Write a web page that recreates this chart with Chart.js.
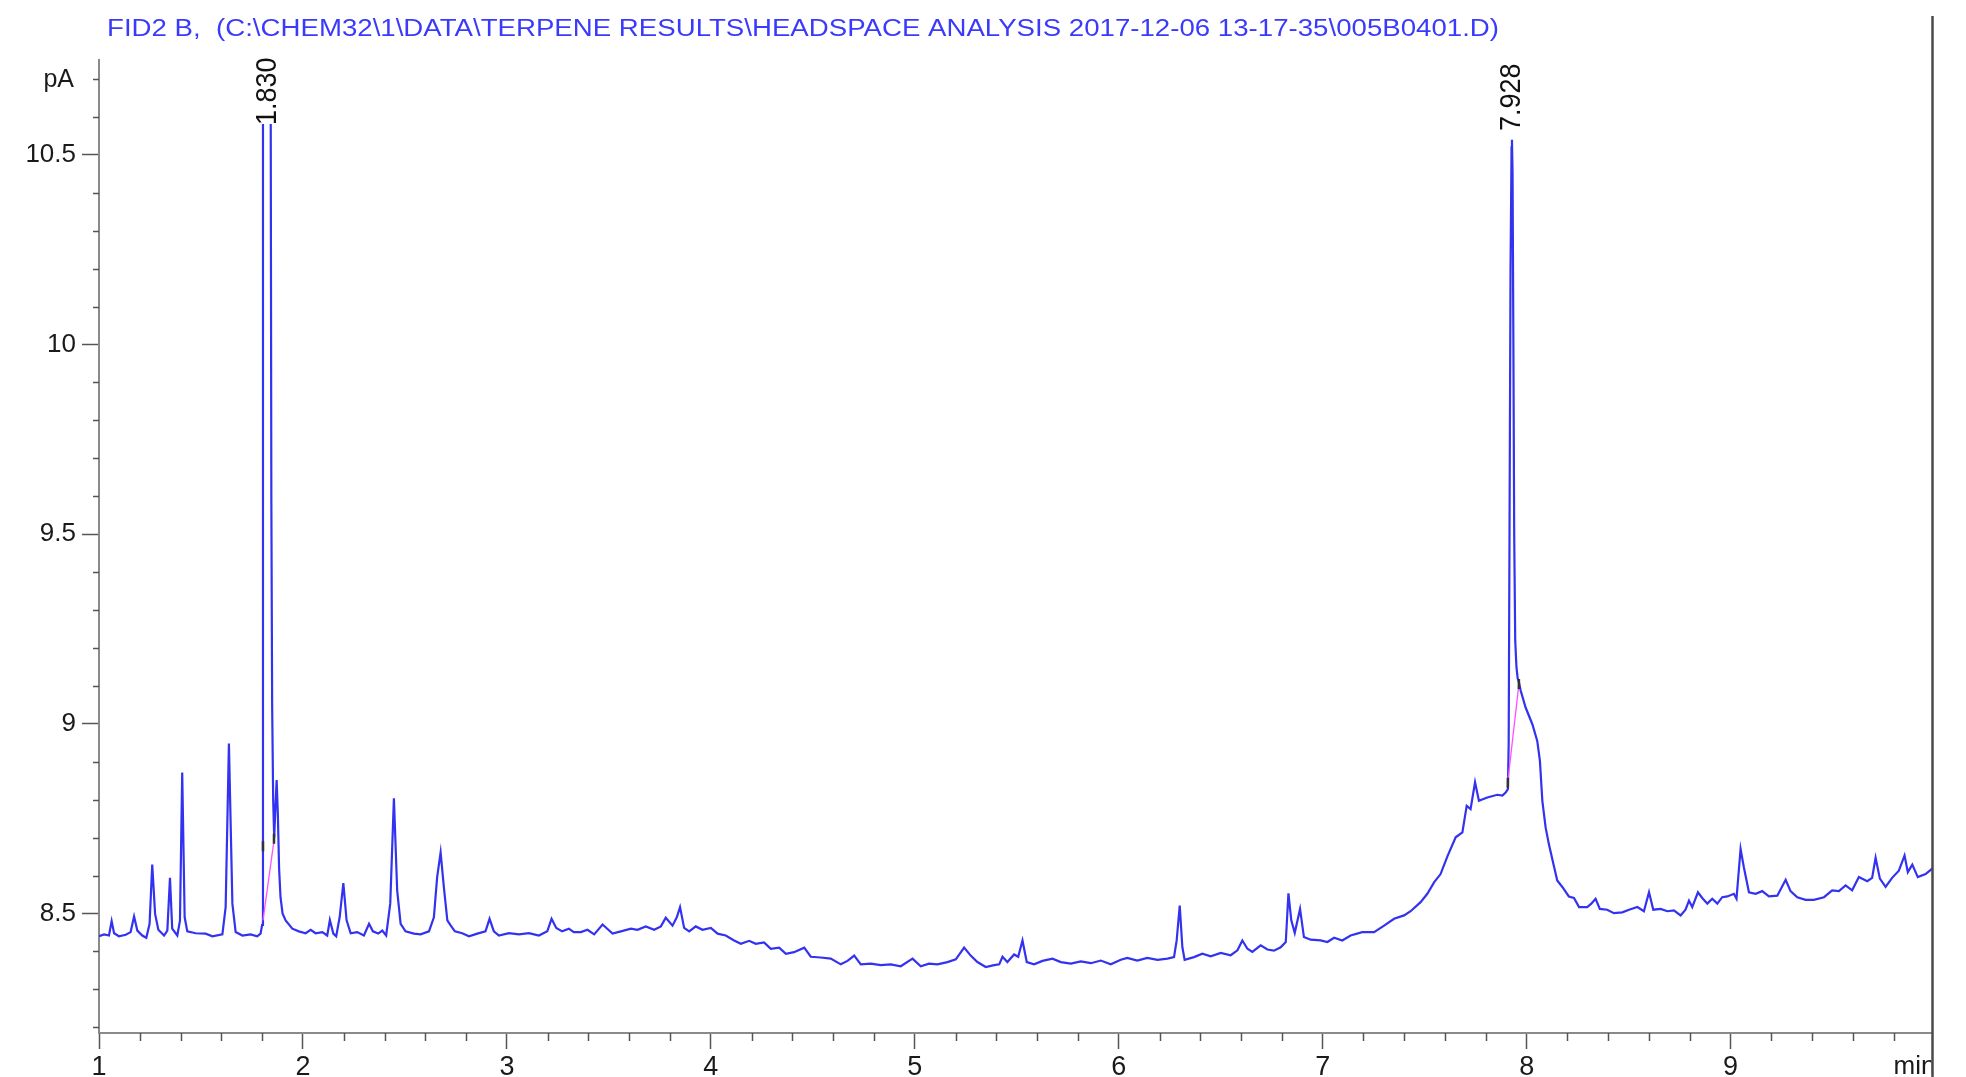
<!DOCTYPE html>
<html>
<head>
<meta charset="utf-8">
<script src="https://cdn.jsdelivr.net/npm/chart.js@4.4.1/dist/chart.umd.min.js"></script>
<style>
html,body{margin:0;padding:0;background:#fff;overflow:hidden}
canvas{display:block}
</style>
</head>
<body>
<canvas id="c" width="1966" height="1077"></canvas>
<script>
// ---------- texts ----------
const chartTitle = "FID2 B,  (C:\\CHEM32\\1\\DATA\\TERPENE RESULTS\\HEADSPACE ANALYSIS 2017-12-06 13-17-35\\005B0401.D)";
const yUnit = "pA";
const xUnit = "min";

// ---------- ticks ----------
const xTickValues = [1, 2, 3, 4, 5, 6, 7, 8, 9];
const xTickLabels = ["1", "2", "3", "4", "5", "6", "7", "8", "9"];
const yTickValues = [8.5, 9, 9.5, 10, 10.5];
const yTickLabels = ["8.5", "9", "9.5", "10", "10.5"];
const xRange = [1, 9.99];
const yRange = [8.185, 10.75];

// ---------- chromatogram trace (retention time in min, signal in pA) ----------
const retentionTimes = [
1.000,1.025,1.049,1.062,1.074,1.098,1.131,1.155,1.172,1.188,1.212,1.232,1.248,1.261,1.275,1.291,1.319,1.335,1.348,1.359,
1.384,1.397,1.408,1.420,1.433,1.474,1.523,1.556,1.605,1.621,1.637,1.654,1.670,1.703,1.743,1.776,1.792,1.800,1.804,1.836,
1.842,1.845,1.849,1.854,1.859,1.865,1.871,1.877,1.883,1.890,1.900,1.915,1.948,1.980,2.013,2.038,2.062,2.095,2.119,2.132,
2.149,2.163,2.180,2.198,2.214,2.234,2.266,2.299,2.324,2.343,2.369,2.389,2.408,2.428,2.446,2.462,2.479,2.503,2.544,2.577,
2.618,2.642,2.658,2.675,2.691,2.708,2.724,2.745,2.781,2.814,2.855,2.895,2.915,2.936,2.961,3.010,3.059,3.108,3.157,3.198,
3.219,3.242,3.271,3.304,3.328,3.363,3.395,3.428,3.469,3.518,3.559,3.608,3.640,3.681,3.722,3.755,3.779,3.812,3.833,3.849,
3.869,3.894,3.926,3.959,4.000,4.033,4.073,4.114,4.147,4.188,4.220,4.261,4.294,4.335,4.368,4.408,4.458,4.490,4.539,4.588,
4.637,4.670,4.703,4.735,4.784,4.833,4.882,4.931,4.989,5.029,5.070,5.111,5.160,5.201,5.242,5.274,5.307,5.348,5.389,5.414,
5.430,5.454,5.487,5.507,5.528,5.549,5.585,5.626,5.675,5.716,5.765,5.814,5.863,5.912,5.961,6.010,6.042,6.091,6.140,6.190,
6.239,6.271,6.284,6.299,6.312,6.323,6.369,6.410,6.451,6.500,6.549,6.582,6.606,6.631,6.655,6.696,6.729,6.761,6.794,6.819,
6.832,6.846,6.863,6.889,6.908,6.941,6.990,7.023,7.056,7.096,7.137,7.194,7.252,7.301,7.350,7.399,7.431,7.480,7.513,7.546,
7.578,7.611,7.652,7.685,7.706,7.725,7.747,7.766,7.807,7.856,7.881,7.897,7.908,7.912,7.916,7.921,7.926,7.928,7.931,7.935,
7.939,7.944,7.950,7.956,7.962,7.971,7.995,8.028,8.052,8.065,8.077,8.093,8.109,8.131,8.150,8.175,8.207,8.232,8.257,8.297,
8.317,8.338,8.359,8.395,8.428,8.469,8.502,8.543,8.575,8.600,8.621,8.657,8.690,8.722,8.755,8.779,8.796,8.812,8.840,8.861,
8.886,8.910,8.935,8.959,8.984,9.016,9.029,9.049,9.065,9.090,9.123,9.155,9.188,9.229,9.270,9.294,9.327,9.368,9.408,9.458,
9.498,9.531,9.564,9.596,9.629,9.670,9.694,9.711,9.732,9.760,9.792,9.825,9.853,9.869,9.891,9.918,9.956,9.997
];
const signal = [
8.440,8.445,8.442,8.480,8.448,8.440,8.444,8.451,8.492,8.455,8.442,8.436,8.473,8.629,8.499,8.457,8.442,8.455,8.594,8.460,
8.442,8.481,8.872,8.490,8.453,8.448,8.447,8.440,8.445,8.517,8.948,8.526,8.451,8.442,8.445,8.440,8.447,8.470,12.000,12.000,
10.600,9.600,9.050,8.800,8.700,8.780,8.852,8.760,8.620,8.543,8.500,8.482,8.460,8.453,8.448,8.457,8.448,8.451,8.442,8.483,
8.447,8.440,8.490,8.580,8.482,8.448,8.451,8.442,8.473,8.453,8.447,8.455,8.442,8.526,8.804,8.561,8.473,8.453,8.447,8.445,
8.453,8.490,8.596,8.661,8.569,8.482,8.469,8.453,8.448,8.440,8.447,8.453,8.486,8.453,8.442,8.448,8.445,8.448,8.442,8.453,
8.486,8.462,8.453,8.460,8.451,8.451,8.457,8.445,8.471,8.447,8.453,8.460,8.457,8.466,8.457,8.466,8.489,8.468,8.490,8.517,
8.462,8.453,8.466,8.457,8.462,8.447,8.442,8.429,8.420,8.428,8.420,8.424,8.407,8.410,8.394,8.398,8.410,8.386,8.384,8.381,
8.366,8.375,8.389,8.366,8.368,8.364,8.366,8.361,8.381,8.361,8.368,8.366,8.372,8.379,8.410,8.389,8.372,8.359,8.364,8.366,
8.386,8.372,8.392,8.386,8.429,8.372,8.366,8.375,8.381,8.372,8.368,8.374,8.369,8.376,8.366,8.378,8.383,8.376,8.383,8.378,
8.381,8.385,8.429,8.521,8.411,8.378,8.385,8.394,8.387,8.396,8.390,8.403,8.429,8.407,8.399,8.416,8.405,8.402,8.411,8.425,
8.553,8.482,8.449,8.512,8.438,8.431,8.429,8.425,8.436,8.429,8.442,8.451,8.451,8.468,8.486,8.495,8.506,8.530,8.552,8.582,
8.604,8.650,8.701,8.714,8.784,8.775,8.846,8.797,8.806,8.813,8.811,8.819,8.828,8.950,9.500,10.200,10.520,10.540,10.450,10.000,
9.500,9.220,9.150,9.120,9.110,9.087,9.043,8.999,8.955,8.903,8.797,8.727,8.683,8.631,8.587,8.570,8.545,8.541,8.517,8.517,
8.526,8.539,8.512,8.510,8.501,8.503,8.510,8.517,8.506,8.556,8.510,8.512,8.506,8.508,8.495,8.510,8.534,8.517,8.556,8.541,
8.526,8.539,8.526,8.543,8.545,8.552,8.539,8.670,8.622,8.556,8.552,8.559,8.545,8.547,8.589,8.559,8.543,8.536,8.536,8.543,
8.561,8.559,8.574,8.561,8.596,8.585,8.594,8.647,8.592,8.570,8.594,8.613,8.653,8.609,8.629,8.596,8.604,8.622
];

// ---------- integration baselines & events ----------
const baselineA_t = [1.804, 1.858];
const baselineA_v = [8.482, 8.692];
const baselineB_t = [7.908, 7.962];
const baselineB_v = [8.850, 9.104];
const eventTimes  = [1.804, 1.858, 7.908, 7.962];
const eventValues = [8.677, 8.697, 8.845, 9.105];

// ---------- peak annotations ----------
const peakTimes  = [1.830, 7.928];
const peakLabels = ["1.830", "7.928"];

// ---------- build ----------
const toXY = (ts, vs) => ts.map((t, i) => ({x: t, y: vs[i]}));
const FONT = '"Liberation Sans", Arial, Helvetica, sans-serif';
const TRACE = 'rgb(50,50,240)';

const decor = {
  id: 'decor',
  beforeDraw(chart) {
    const ctx = chart.ctx;
    ctx.save();
    ctx.fillStyle = '#ffffff';
    ctx.fillRect(0, 0, chart.width, chart.height);
    ctx.restore();
  },
  afterDatasetsDraw(chart) {
    const {ctx, chartArea, scales} = chart;
    const xs = scales.x, ys = scales.y;
    ctx.save();
    // minor ticks on x (every 0.2 min)
    ctx.strokeStyle = '#555';
    ctx.lineWidth = 1.5;
    ctx.beginPath();
    for (let k = Math.round(xs.min * 5) + 1; k / 5 < xs.max; k++) {
      if (k % 5 === 0) continue;
      const px = Math.round(xs.getPixelForValue(k / 5)) + 0.5;
      ctx.moveTo(px, chartArea.bottom);
      ctx.lineTo(px, chartArea.bottom + 8);
    }
    // minor ticks on y (every 0.1 pA)
    for (let k = Math.ceil(ys.min * 10); k / 10 <= ys.max; k++) {
      if (k % 5 === 0) continue;
      const py = Math.round(ys.getPixelForValue(k / 10)) + 0.5;
      ctx.moveTo(chartArea.left - 6, py);
      ctx.lineTo(chartArea.left, py);
    }
    ctx.stroke();

    // peak retention time labels (rotated)
    ctx.font = '27px ' + FONT;
    ctx.fillStyle = '#111';
    peakLabels.forEach((lab, i) => {
      const px = xs.getPixelForValue(peakTimes[i]);
      const bottom = chartArea.top + (i === 0 ? 65 : 71);
      ctx.save();
      ctx.fillStyle = '#fff';
      ctx.fillRect(px - 12, chartArea.top - 2, 24, bottom - chartArea.top + 1);
      ctx.restore();
      ctx.save();
      ctx.translate(px, bottom);
      ctx.rotate(-Math.PI / 2);
      ctx.scale(1, 1.08);
      ctx.textAlign = 'left';
      ctx.textBaseline = 'middle';
      ctx.fillText(lab, 0, 0);
      ctx.restore();
    });
    ctx.restore();
  },
  afterDraw(chart) {
    const {ctx, chartArea} = chart;
    ctx.save();
    // title
    ctx.font = '23px ' + FONT;
    ctx.fillStyle = 'rgb(58,58,252)';
    ctx.textBaseline = 'alphabetic';
    ctx.textAlign = 'left';
    const tw = ctx.measureText(chartTitle).width;
    ctx.save();
    ctx.translate(chartArea.left + 8, 36);
    ctx.scale(1392 / tw, 1);
    ctx.fillText(chartTitle, 0, 0);
    ctx.restore();

    // y unit
    ctx.font = '25px ' + FONT;
    ctx.fillStyle = '#1a1a1a';
    ctx.textAlign = 'right';
    ctx.fillText(yUnit, chartArea.left - 25, 87);

    // x unit (clipped by the frame)
    ctx.save();
    ctx.beginPath();
    ctx.rect(0, 0, chartArea.right - 1, chart.height);
    ctx.clip();
    ctx.font = '26px ' + FONT;
    ctx.textAlign = 'left';
    ctx.textBaseline = 'middle';
    ctx.fillText(xUnit, chartArea.right - 39, 1067);
    ctx.restore();

    // right frame line
    ctx.strokeStyle = '#4a4a4a';
    ctx.lineWidth = 2.5;
    ctx.beginPath();
    ctx.moveTo(chartArea.right, 16);
    ctx.lineTo(chartArea.right, chart.height);
    ctx.stroke();
    ctx.restore();
  }
};

new Chart(document.getElementById('c'), {
  type: 'line',
  data: {
    datasets: [
      {
        label: 'FID2 B',
        data: toXY(retentionTimes, signal),
        borderColor: TRACE,
        borderWidth: 2.2,
        pointRadius: 0,
        tension: 0,
        fill: false,
        order: 2
      },
      {
        label: 'baseline 1',
        data: toXY(baselineA_t, baselineA_v),
        borderColor: 'rgb(255,80,255)',
        borderWidth: 1.3,
        pointRadius: 0,
        order: 1
      },
      {
        label: 'baseline 2',
        data: toXY(baselineB_t, baselineB_v),
        borderColor: 'rgb(255,80,255)',
        borderWidth: 1.3,
        pointRadius: 0,
        order: 1
      },
      {
        label: 'events',
        data: toXY(eventTimes, eventValues),
        showLine: false,
        pointStyle: 'line',
        rotation: 90,
        pointRadius: 5,
        pointBorderWidth: 2.5,
        pointBorderColor: '#333',
        borderColor: '#333',
        order: 0
      }
    ]
  },
  options: {
    responsive: false,
    devicePixelRatio: 1,
    animation: false,
    events: [],
    layout: {padding: {top: 60, right: 33.5, left: 0, bottom: 0}},
    plugins: {
      legend: {display: false},
      title: {display: false},
      tooltip: {enabled: false}
    },
    scales: {
      x: {
        type: 'linear',
        position: 'bottom',
        min: xRange[0],
        max: xRange[1],
        afterBuildTicks: s => { s.ticks = xTickValues.map(v => ({value: v})); },
        afterFit: s => { s.height = 44; },
        ticks: {
          autoSkip: false,
          maxRotation: 0,
          padding: 2,
          color: '#1a1a1a',
          font: {family: FONT, size: 27},
          callback: (v, i) => xTickLabels[i]
        },
        grid: {drawOnChartArea: false, drawTicks: true, tickLength: 16, tickColor: '#555', tickWidth: 1.5},
        border: {display: true, color: '#8a8a8a', width: 2}
      },
      y: {
        type: 'linear',
        position: 'left',
        min: yRange[0],
        max: yRange[1],
        afterBuildTicks: s => { s.ticks = yTickValues.map(v => ({value: v})); },
        afterFit: s => { s.width = 99; },
        ticks: {
          autoSkip: false,
          padding: 6,
          color: '#1a1a1a',
          font: {family: FONT, size: 26},
          callback: (v, i) => yTickLabels[i]
        },
        grid: {drawOnChartArea: false, drawTicks: true, tickLength: 17, tickColor: '#555', tickWidth: 1.5},
        border: {display: true, color: '#8a8a8a', width: 2}
      }
    }
  },
  plugins: [decor]
});
</script>
</body>
</html>
